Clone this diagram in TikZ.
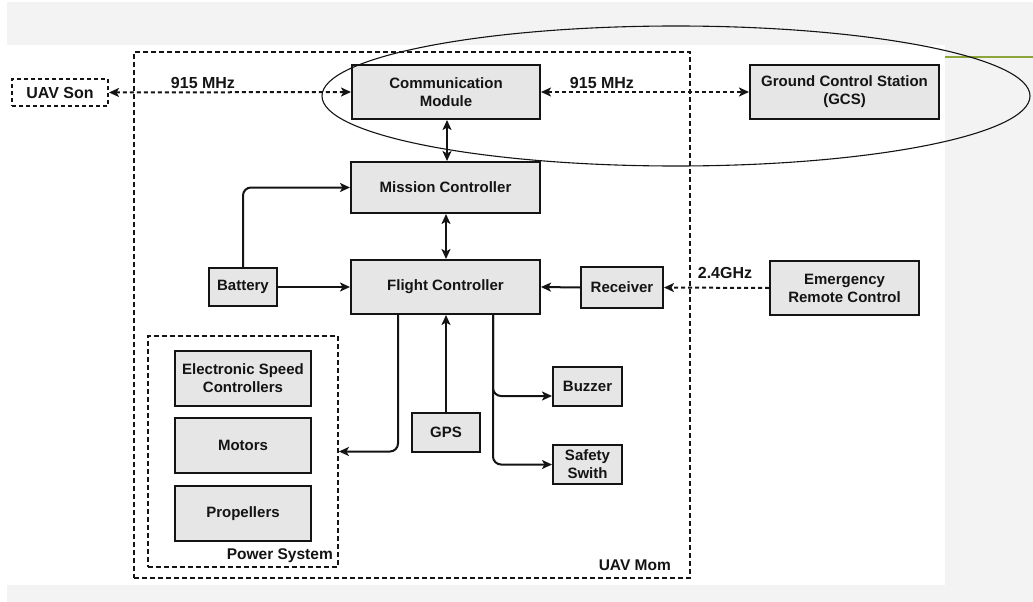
\documentclass[tikz,border=0pt]{standalone}
\usepackage{fontspec}
\setmainfont{Liberation Sans}
\usetikzlibrary{arrows.meta,positioning}

\definecolor{boxfill}{HTML}{E6E6E6}
\definecolor{pagegray}{HTML}{F3F3F3}
\definecolor{accent}{HTML}{8CA43A}
\definecolor{ink}{HTML}{141414}

\tikzset{
  tip/.tip={Stealth[length=10pt,width=9pt,inset=2.5pt]},
  blk/.style={draw=ink, line width=2pt, fill=boxfill, inner sep=0pt,
    align=center, text=ink, font=\fontsize{15}{18}\selectfont\bfseries},
  frame/.style={draw=ink, line width=1.8pt, dash pattern=on 5pt off 3pt, inner sep=0pt},
  link/.style={draw=ink, line width=2pt, -tip, rounded corners=8pt},
  biglink/.style={link, tip-tip},
  radio/.style={line width=2pt, dash pattern=on 4pt off 3pt},
  lbl/.style={text=ink, font=\fontsize{16}{18}\selectfont\bfseries, inner sep=0pt},
  tag/.style={text=ink, font=\fontsize{15.5}{18}\selectfont\bfseries, inner sep=0pt, anchor=east}
}

\begin{document}
\begin{tikzpicture}[x=1pt,y=-1pt]
\useasboundingbox (0,0) rectangle (1033,602);

% page background
\fill[white] (0,0) rectangle (1033,602);
\fill[pagegray] (7,2) rectangle (1033,45);
\fill[pagegray] (7,585) rectangle (1033,602);
\fill[pagegray] (945,45) rectangle (1033,585);
\draw[accent, line width=2pt] (945,57) -- (1033,57);

% containers
\node[frame, minimum width=556pt, minimum height=526pt] (mom) at (412,315) {};
\node[tag] (momlbl) at (671,565) {UAV Mom};
\node[frame, minimum width=190pt, minimum height=231pt] (pow) at (243,451.5) {};
\node[tag] (powlbl) at (333,556) {Power System};

% blocks
\node[blk, fill=white, dash pattern=on 4pt off 3pt, minimum width=96pt, minimum height=27pt,
      font=\fontsize{16}{18}\selectfont\bfseries] (son) at (60,92.5) {UAV Son};
\node[blk, minimum width=188pt, minimum height=54pt] (cm) at (446,92) {Communication\\Module};
\node[blk, minimum width=189pt, minimum height=54pt] (gcs) at (844.5,92) {Ground Control Station\\(GCS)};
\node[blk, minimum width=189pt, minimum height=51pt] (mc) at (445.5,187.5) {Mission Controller};
\node[blk, minimum width=189pt, minimum height=54pt] (fc) at (445.5,287) {Flight Controller};
\node[blk, minimum width=68pt, minimum height=38pt] (bat) at (243,287) {Battery};
\node[blk, minimum width=82pt, minimum height=41pt] (rec) at (622,287.5) {Receiver};
\node[blk, minimum width=149pt, minimum height=54pt] (erc) at (844.5,288) {Emergency\\Remote Control};
\node[blk, minimum width=136pt, minimum height=55pt] (esc) at (243,378.5) {Electronic Speed\\Controllers};
\node[blk, minimum width=136pt, minimum height=55pt] (mot) at (243,445.5) {Motors};
\node[blk, minimum width=136pt, minimum height=55pt] (prop) at (243,513.5) {Propellers};
\node[blk, minimum width=68pt, minimum height=39pt] (gps) at (446,432.5) {GPS};
\node[blk, minimum width=69pt, minimum height=39pt] (buz) at (587.5,386.5) {Buzzer};
\node[blk, minimum width=69pt, minimum height=39pt] (saf) at (587.5,464.5) {Safety\\Swith};

% radio links
\draw[biglink, radio] (son.east) -- (cm.west);
\draw[biglink, radio] (cm.east) -- (gcs.west);
\draw[link, radio] (erc.west) -- (rec.east);
\node[lbl] (f1) at (203,83) {915 MHz};
\node[lbl] (f2) at (602,83) {915 MHz};
\node[lbl] (f3) at (725,273) {2.4GHz};

% wired links
\draw[biglink] ([xshift=1pt]cm.south) -- ([xshift=1.5pt]mc.north);
\draw[biglink] ([xshift=0.5pt]mc.south) -- ([xshift=0.5pt]fc.north);
\draw[link] (bat.north) |- (mc.west);
\draw[link] (bat.east) -- (fc.west);
\draw[link] (rec.west) -- (fc.east);
\draw[link] (gps.north) -- (gps.north |- fc.south);
\draw[link] ([xshift=-47.5pt]fc.south) |- (pow.east);
\draw[link] ([xshift=47.5pt]fc.south) |- ([yshift=-9.5pt]buz.west);
\draw[link] ([xshift=47.5pt]fc.south) |- (saf.west);

% grouping outline around the 915 MHz link
\draw[ink, line width=1.1pt] (676,96) ellipse [x radius=354pt, y radius=70pt];
\end{tikzpicture}
\end{document}
